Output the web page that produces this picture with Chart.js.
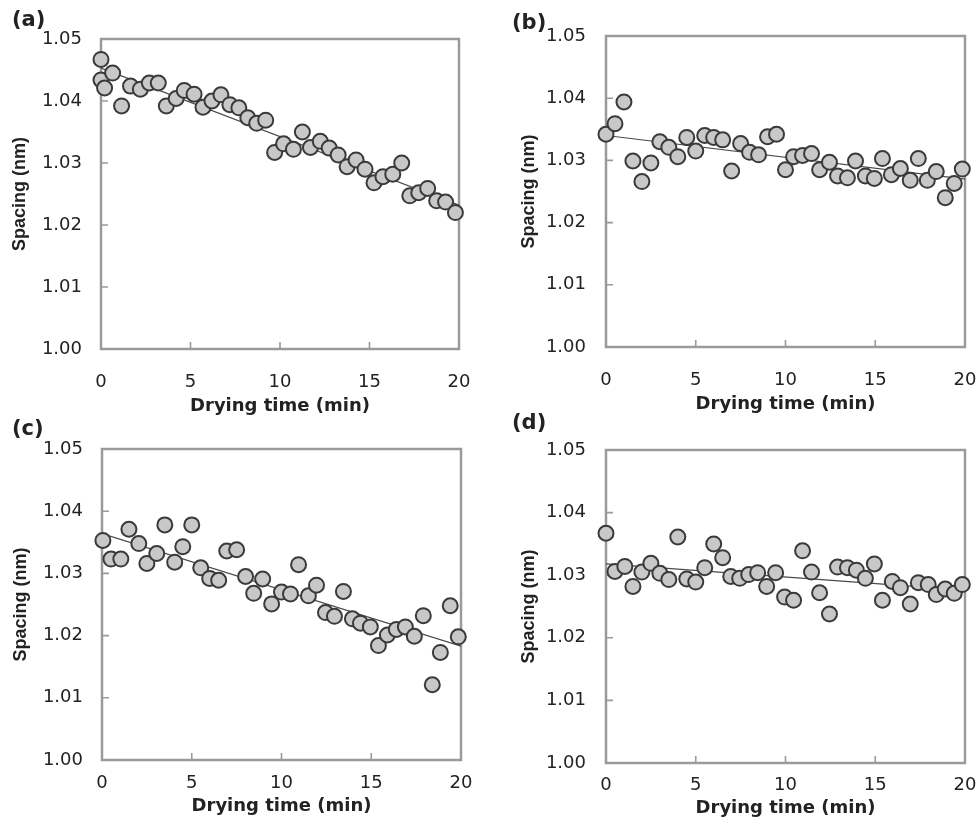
<!DOCTYPE html>
<html><head><meta charset="utf-8">
<script src="https://cdn.jsdelivr.net/npm/chart.js@4.4.1/dist/chart.umd.min.js"></script>
<style>
html,body{margin:0;padding:0;background:#fff;overflow:hidden;width:976px;height:831px;position:relative;}
canvas{position:absolute;}
.plabel{position:absolute;font-family:"DejaVu Sans";font-weight:bold;font-size:21px;color:#222;line-height:1;}
</style></head><body>
<canvas id="ca" width="490" height="440" style="left:0px;top:0px"></canvas>
<canvas id="cb" width="510" height="440" style="left:490px;top:0px"></canvas>
<canvas id="cc" width="490" height="421" style="left:0px;top:410px"></canvas>
<canvas id="cd" width="510" height="421" style="left:490px;top:410px"></canvas>
<div class="plabel" style="left:12px;top:9px">(a)</div>
<div class="plabel" style="left:512px;top:12px">(b)</div>
<div class="plabel" style="left:12px;top:418px">(c)</div>
<div class="plabel" style="left:512px;top:412px">(d)</div>
<script>
// ---- data ----
const X_TICKS = [0, 5, 10, 15, 20];
const X_TICK_LABELS = ['0', '5', '10', '15', '20'];
const Y_TICKS = [1.00, 1.01, 1.02, 1.03, 1.04, 1.05];
const Y_TICK_LABELS = ['1.00', '1.01', '1.02', '1.03', '1.04', '1.05'];
const X_TITLE = 'Drying time (min)';
const Y_TITLE = 'Spacing (nm)';
const TREND_X = [0, 20];

const timeA = [0, 0, 0.2, 0.65, 1.15, 1.65, 2.2, 2.7, 3.2, 3.65, 4.2, 4.65, 5.2, 5.7, 6.2, 6.7, 7.2, 7.7, 8.2, 8.7, 9.2, 9.7,
  10.2, 10.75, 11.25, 11.7, 12.25, 12.75, 13.25, 13.75, 14.25, 14.75, 15.25, 15.75, 16.3, 16.8, 17.25, 17.75, 18.25, 18.75, 19.25, 19.8];
const spacingA = [1.0467, 1.0434, 1.0421, 1.0445, 1.0392, 1.0424, 1.0419, 1.0429, 1.0429, 1.0392, 1.0404, 1.0417, 1.0411,
  1.0390, 1.0400, 1.0410, 1.0394, 1.0389, 1.0373, 1.0364, 1.0369, 1.0317,
  1.0331, 1.0322, 1.0350, 1.0325, 1.0335, 1.0324, 1.0313, 1.0294, 1.0305, 1.0290,
  1.0268, 1.0278, 1.0282, 1.0300, 1.0247, 1.0252, 1.0259, 1.0239, 1.0237, 1.0220];
const trendA = [1.0453, 1.0232];

const timeB = [0, 0.5, 1, 1.5, 2, 2.5, 3, 3.5, 4, 4.5, 5, 5.5, 6, 6.5, 7, 7.5, 8, 8.5, 9, 9.5,
  10, 10.45, 10.95, 11.45, 11.9, 12.45, 12.9, 13.45, 13.9, 14.45, 14.95, 15.4, 15.9, 16.4, 16.95, 17.4, 17.9, 18.4, 18.9, 19.4, 19.85];
const spacingB = [1.0342, 1.0359, 1.0394, 1.0299, 1.0266, 1.0296, 1.0330, 1.0321, 1.0306, 1.0337, 1.0315, 1.0340, 1.0337, 1.0333,
  1.0283, 1.0327, 1.0313, 1.0309, 1.0338, 1.0342,
  1.0285, 1.0306, 1.0308, 1.0311, 1.0285, 1.0297, 1.0275, 1.0272, 1.0299, 1.0275, 1.0271, 1.0303, 1.0277, 1.0287,
  1.0268, 1.0303, 1.0268, 1.0282, 1.0240, 1.0263, 1.0286];
const trendB = [1.0340, 1.0270];

const timeC = [0.05, 0.5, 1.05, 1.5, 2.05, 2.5, 3.05, 3.5, 4.05, 4.5, 5, 5.5, 6, 6.5, 6.95, 7.5, 8, 8.45, 8.95, 9.45,
  10, 10.5, 10.95, 11.5, 11.95, 12.45, 12.95, 13.45, 13.95, 14.4, 14.95, 15.4, 15.9, 16.4, 16.9, 17.4, 17.9, 18.4, 18.85, 19.4, 19.85];
const spacingC = [1.0353, 1.0323, 1.0323, 1.0371, 1.0348, 1.0316, 1.0332, 1.0378, 1.0318, 1.0343, 1.0378, 1.0309, 1.0292, 1.0289,
  1.0336, 1.0338, 1.0295, 1.0268, 1.0291, 1.0251,
  1.0270, 1.0267, 1.0314, 1.0264, 1.0281, 1.0237, 1.0231, 1.0271, 1.0227, 1.0220, 1.0214, 1.0184, 1.0201, 1.0210,
  1.0214, 1.0199, 1.0232, 1.0121, 1.0173, 1.0248, 1.0198];
const trendC = [1.0364, 1.0183];

const timeD = [0, 0.5, 1.05, 1.5, 2, 2.5, 3, 3.5, 4, 4.5, 5, 5.5, 6, 6.5, 6.95, 7.45, 7.95, 8.45, 8.95, 9.45,
  9.95, 10.45, 10.95, 11.45, 11.9, 12.45, 12.9, 13.45, 13.95, 14.45, 14.95, 15.4, 15.95, 16.4, 16.95, 17.4, 17.95, 18.4, 18.9, 19.4, 19.85];
const spacingD = [1.0367, 1.0306, 1.0314, 1.0282, 1.0305, 1.0319, 1.0303, 1.0293, 1.0361, 1.0294, 1.0289, 1.0312, 1.0350, 1.0328,
  1.0298, 1.0295, 1.0301, 1.0304, 1.0282, 1.0304,
  1.0265, 1.0260, 1.0339, 1.0305, 1.0272, 1.0238, 1.0313, 1.0312, 1.0308, 1.0295, 1.0318, 1.0260, 1.0290, 1.0280,
  1.0254, 1.0288, 1.0285, 1.0269, 1.0278, 1.0271, 1.0285];
const trendD = [1.0318, 1.0276];

// ---- drawing ----
const TEXT = '#222';
const framePlugin = {
  id: 'frame',
  beforeDatasetsDraw(chart) {
    const {ctx, chartArea: a, scales: {x, y}} = chart;
    ctx.save();
    ctx.strokeStyle = '#9a9a9a';
    ctx.lineWidth = 1.6;
    ctx.beginPath();
    x.ticks.forEach(t => {
      if (t.value > x.min && t.value < x.max) {
        const px = x.getPixelForValue(t.value);
        ctx.moveTo(px, a.bottom); ctx.lineTo(px, a.bottom - 7);
      }
    });
    y.ticks.forEach(t => {
      if (t.value > y.min && t.value < y.max) {
        const py = y.getPixelForValue(t.value);
        ctx.moveTo(a.left, py); ctx.lineTo(a.left + 7, py);
      }
    });
    ctx.stroke();
    ctx.lineWidth = 2.5;
    ctx.strokeRect(a.left, a.top, a.right - a.left, a.bottom - a.top);
    ctx.restore();
  }
};

function panel(id, g, times, vals, trend) {
  const cv = document.getElementById(id);
  const cL = g.cx, cT = g.cy, cW = cv.width, cH = cv.height;
  new Chart(cv, {
    type: 'scatter',
    data: {
      datasets: [
        {
          data: times.map((t, i) => ({x: t, y: vals[i]})),
          pointRadius: 7.5, pointHoverRadius: 7.5,
          pointBackgroundColor: '#c8c8c8', pointBorderColor: '#3a3a3a', pointBorderWidth: 2,
          clip: false
        },
        {
          type: 'line',
          data: TREND_X.map((t, i) => ({x: t, y: trend[i]})),
          borderColor: '#4a4a4a', borderWidth: 1.2, pointRadius: 0, fill: false
        }
      ]
    },
    options: {
      responsive: false, animation: false, devicePixelRatio: 1, events: [],
      layout: {padding: {left: 0, top: g.T - cT, right: cL + cW - g.R, bottom: 0}},
      plugins: {legend: {display: false}, tooltip: {enabled: false}},
      scales: {
        x: {
          type: 'linear', min: 0, max: 20,
          grid: {display: false}, border: {display: false},
          afterBuildTicks: s => { s.ticks = X_TICKS.map(v => ({value: v})); },
          afterFit: s => { s.height = cT + cH - g.B; },
          ticks: {
            padding: g.xLab - g.B - 10.8, autoSkip: false, maxRotation: 0,
            font: {family: 'DejaVu Sans', size: 18}, color: TEXT,
            callback: (v, i) => X_TICK_LABELS[i]
          },
          title: {
            display: true, text: X_TITLE, color: TEXT,
            font: {family: 'DejaVu Sans', size: 18, weight: 'bold'},
            padding: {top: 0, bottom: cT + cH - g.xTitle - 10.8}
          }
        },
        y: {
          type: 'linear', min: 1.00, max: 1.05,
          grid: {display: false}, border: {display: false},
          afterBuildTicks: s => { s.ticks = Y_TICKS.map(v => ({value: v})); },
          afterFit: s => { s.width = g.L - cL; },
          ticks: {
            padding: g.L - g.yLabR, autoSkip: false,
            font: {family: 'DejaVu Sans', size: 18}, color: TEXT,
            callback: (v, i) => Y_TICK_LABELS[i]
          },
          title: {
            display: true, text: Y_TITLE, color: TEXT,
            font: {family: 'Liberation Sans', size: 18, weight: 'bold'},
            padding: {top: g.yTitleX - cL - 10.8, bottom: 0}
          }
        }
      }
    },
    plugins: [framePlugin]
  });
}

panel('ca', {cx: 0, cy: 0, L: 101, T: 39, R: 459, B: 349, xLab: 374, xTitle: 406, yLabR: 90, yTitleX: 20}, timeA, spacingA, trendA);
panel('cb', {cx: 490, cy: 0, L: 606, T: 36, R: 965, B: 347, xLab: 372, xTitle: 404, yLabR: 594, yTitleX: 529}, timeB, spacingB, trendB);
panel('cc', {cx: 0, cy: 410, L: 102, T: 449, R: 461, B: 760, xLab: 775, xTitle: 806, yLabR: 91, yTitleX: 21}, timeC, spacingC, trendC);
panel('cd', {cx: 490, cy: 410, L: 606, T: 450, R: 965, B: 763, xLab: 777, xTitle: 808, yLabR: 594, yTitleX: 529}, timeD, spacingD, trendD);
</script>
</body></html>
